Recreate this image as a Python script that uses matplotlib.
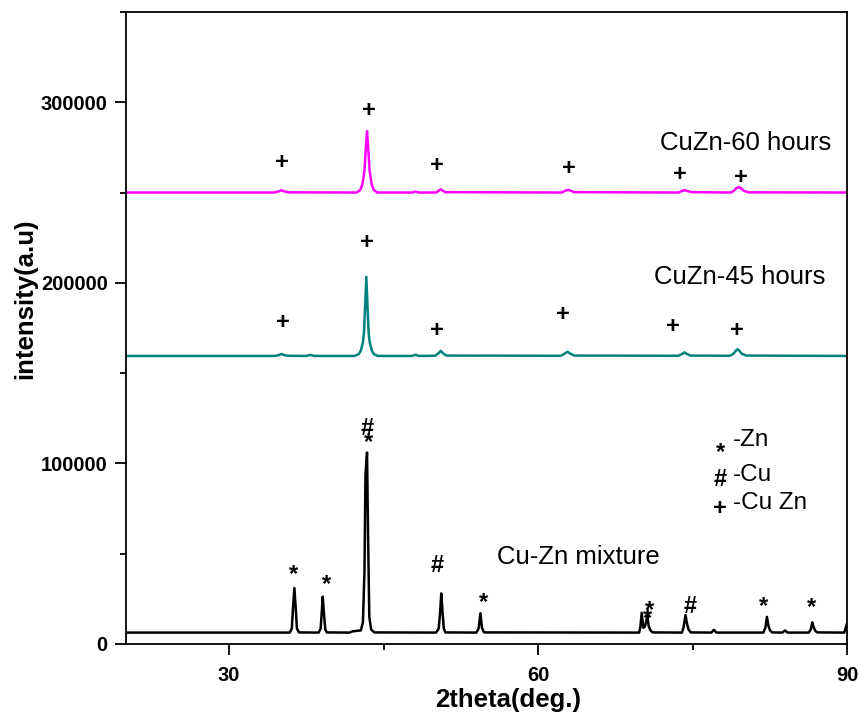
import matplotlib
matplotlib.use("Agg")
import matplotlib.pyplot as plt
from matplotlib.ticker import MultipleLocator, FuncFormatter

plt.rcParams["font.family"] = ["Liberation Sans", "DejaVu Sans"]

# XRD traces: (2theta, intensity) vertices
mix_2theta = [20.0, 35.9, 36.1, 36.22, 36.35, 36.48, 36.6, 36.8, 38.7, 38.9, 39.0, 39.1,
              39.22, 39.35, 39.5,
              41.7, 42.0, 42.8, 43.0, 43.15, 43.25, 43.4, 43.5, 43.62, 43.8, 44.1,
              50.1, 50.35, 50.5, 50.6, 50.72, 50.85, 51.0,
              54.0, 54.22, 54.4, 54.55, 54.75,
              69.8, 69.92, 70.05, 70.2, 70.35, 70.48, 70.6, 70.72, 70.9, 71.1,
              73.95, 74.1, 74.3, 74.45, 74.6, 74.8, 76.8, 77.05, 77.3,
              81.85, 82.05, 82.2, 82.35, 82.5, 82.7, 83.7, 83.95, 84.2,
              86.25, 86.45, 86.6, 86.75, 86.9, 87.1, 89.7, 89.95]
mix_int = [6300, 6300, 8500, 20000, 31000, 20000, 8500, 6400, 6300, 8500, 17000, 26200,
           17000, 8000, 6400,
           6300, 7000, 7500, 12000, 40000, 94000, 106000, 60000, 15000, 8000, 6400,
           6300, 8500, 18000, 28000, 18000, 8500, 6400,
           6300, 8500, 17000, 9000, 6400,
           6300, 9500, 17300, 9000, 9500, 12500, 15500, 10000, 7500, 6400,
           6300, 9000, 16000, 11000, 8000, 6400, 6300, 7800, 6300,
           6300, 9000, 15000, 10000, 7500, 6400, 6300, 7500, 6300,
           6300, 8000, 12000, 9000, 7200, 6400, 6300, 11000]

h45_2theta = [20.0, 34.5, 34.85, 35.1, 35.35, 35.7, 37.5, 37.9, 38.3,
              42.2, 42.6, 42.8, 43.0, 43.1, 43.2, 43.33, 43.46, 43.56, 43.66, 43.86,
              44.06, 44.45, 47.8, 48.1, 48.4, 50.0, 50.3, 50.55, 50.8, 51.1,
              62.2, 62.55, 62.85, 63.15, 63.5, 73.6, 73.95, 74.2, 74.45, 74.8,
              78.6, 78.95, 79.2, 79.35, 79.5, 79.75, 80.2, 90.0]
h45_int = [159500, 159500, 160000, 160600, 160000, 159600, 159500, 160100, 159500,
           159500, 160500, 162500, 167000, 172000, 185000, 203300, 185000, 172000,
           167000, 162500, 160500, 159500, 159500, 160200, 159500, 159600, 160800,
           162300, 160800, 159700, 159600, 160700, 161800, 160700, 159700,
           159600, 160500, 161500, 160500, 159700,
           159600, 160700, 162500, 163200, 162500, 160700, 159700, 159500]

h60_2theta = [20.0, 34.4, 34.8, 35.1, 35.4, 35.8,
              42.4, 42.75, 42.95, 43.15, 43.3, 43.4, 43.5, 43.65, 43.85, 44.05, 44.4,
              47.8, 48.1, 48.4, 50.1, 50.35, 50.55, 50.75, 51.0,
              62.3, 62.6, 62.9, 63.2, 63.5, 73.6, 73.95, 74.2, 74.5, 74.9,
              78.7, 79.0, 79.25, 79.45, 79.65, 79.95, 80.4, 90.0]
h60_int = [250000, 250000, 250600, 251200, 250600, 250100,
           250000, 251500, 254500, 262000, 276000, 284000, 276000, 262000, 254500,
           251500, 250000, 250000, 250600, 250000, 250000, 251000, 251800, 251000,
           250200, 250000, 250900, 251500, 250900, 250200,
           250000, 250800, 251300, 250800, 250200,
           250000, 251000, 252500, 253000, 252500, 251000, 250100, 250000]

# phase marks: (2theta, intensity, symbol)
marks_mix = [(36.3, 41500, "*"), (39.5, 36000, "*"), (43.4, 119500, "#"),
             (43.5, 114600, "*"), (50.2, 43200, "#"), (54.7, 26000, "*"),
             (70.8, 21500, "*"), (70.6, 17000, "*"), (74.8, 21000, "#"),
             (81.9, 23800, "*"), (86.5, 23200, "*")]
marks_45 = [35.2, 43.4, 50.2, 62.4, 73.1, 79.3]
marks_45_y = [178200, 222500, 173800, 182600, 176000, 173800]
marks_60 = [35.15, 43.6, 50.2, 63.0, 73.8, 79.7]
marks_60_y = [266700, 295500, 265100, 263400, 260100, 258400]

fig = plt.figure(figsize=(8.62, 7.2), dpi=100)
ax = fig.add_axes([0.146, 0.1056, 0.837, 0.8778])

ax.plot(mix_2theta, mix_int, color="black", lw=1.8)
ax.plot(h45_2theta, h45_int, color="#008080", lw=1.8)
ax.plot(h60_2theta, h60_int, color="#ff00ff", lw=1.8)

sym_kw = dict(ha="center", va="center", fontsize=17, fontweight="bold")
# '*' glyph sits high in its box; shift the anchor down
star_shift = -2800
for x, y, s in marks_mix:
    ax.text(x, y + (star_shift if s == "*" else 0), s, **sym_kw)
for x, y in zip(marks_45, marks_45_y):
    ax.text(x, y, "+", **sym_kw)
for x, y in zip(marks_60, marks_60_y):
    ax.text(x, y, "+", **sym_kw)

ax.text(71.85, 277300, "CuZn-60 hours", fontsize=18.5, va="center", ha="left")
ax.text(71.26, 203100, "CuZn-45 hours", fontsize=18.5, va="center", ha="left")
ax.text(56.0, 48000, "Cu-Zn mixture", fontsize=18.5, va="center", ha="left")

# legend-like key
ax.text(77.67, 109000 + star_shift, "*", **sym_kw)
ax.text(78.9, 112900, "-Zn", fontsize=17.5, va="center", ha="left")
ax.text(77.67, 91000, "#", **sym_kw)
ax.text(78.9, 93500, "-Cu", fontsize=17.5, va="center", ha="left")
ax.text(77.67, 75000, "+", **sym_kw)
ax.text(78.9, 78000, "-Cu Zn", fontsize=17.5, va="center", ha="left")

ax.set_xlim(20, 90)
ax.set_ylim(0, 350000)
ax.xaxis.set_major_locator(MultipleLocator(30))
ax.xaxis.set_minor_locator(MultipleLocator(15))
ax.yaxis.set_major_locator(MultipleLocator(100000))
ax.yaxis.set_minor_locator(MultipleLocator(50000))
ax.yaxis.set_major_formatter(FuncFormatter(lambda v, p: f"{int(v)}"))
ax.tick_params(which="major", direction="out", length=8, width=1.3,
               labelsize=14.5, pad=5)
ax.tick_params(which="minor", direction="out", length=4.5, width=1.3)
ax.tick_params(axis="x", which="major", pad=8)
for lab in ax.get_xticklabels() + ax.get_yticklabels():
    lab.set_fontweight("bold")
for sp in ax.spines.values():
    sp.set_linewidth(1.3)

ax.set_xlabel("2theta(deg.)", fontsize=18.5, fontweight="bold", va="center")
ax.set_ylabel("intensity(a.u)", fontsize=18.5, fontweight="bold", va="center")
ax.xaxis.set_label_coords(0.53, -0.089)
ax.yaxis.set_label_coords(-0.14, 0.547)

fig.savefig("out.png", dpi=100)
